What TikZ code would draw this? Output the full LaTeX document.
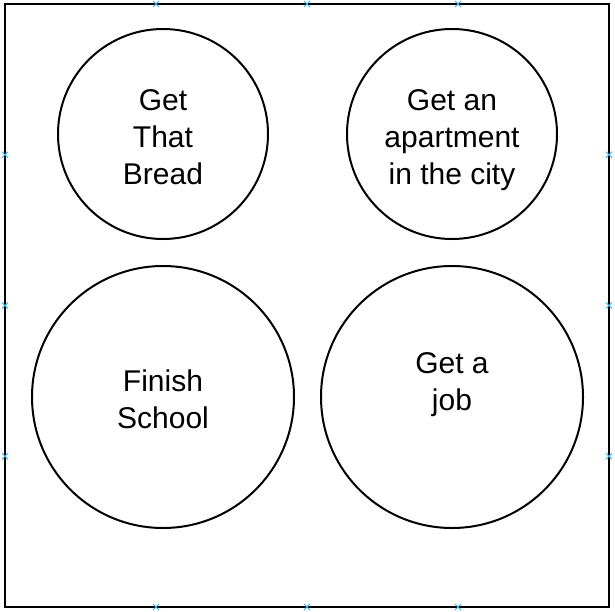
\documentclass[tikz,border=0pt]{standalone}
\usepackage{fontspec}
\setmainfont{Liberation Sans}
\usetikzlibrary{positioning}
\definecolor{markblue}{HTML}{29B6F2}
\tikzset{
	goal/.style={draw,line width=2pt,circle,inner sep=0pt,align=center,font=\fontsize{30}{37}\selectfont},
	pin/.style={markblue,line width=0.9pt}
}

\begin{document}
\begin{tikzpicture}[x=1pt,y=-1pt,line width=2pt]
		\useasboundingbox (0,0) rectangle (615,611);
		%\fill[white] (0,0) rectangle (615,611);
		\draw (5,4) rectangle (609,607);
		% connection marks on the frame
		\foreach \t in {0.25,0.5,0.75}{
			\pgfmathsetmacro{\mx}{2+604*\t}
			\pgfmathsetmacro{\my}{1+603*\t}
			\draw[pin] (\mx,1) -- ++(6,6) (\mx,7) -- ++(6,-6);
			\draw[pin] (\mx,604) -- ++(6,6) (\mx,610) -- ++(6,-6);
			\draw[pin] (2,\my) -- ++(6,6) (2,\my+6) -- ++(6,-6);
			\draw[pin] (606,\my) -- ++(6,6) (606,\my+6) -- ++(6,-6);
		}
		\node[goal,minimum size=210pt] (bread) at (163,134) {};
		\node[goal,minimum size=210pt] (apartment) at (452,134) {};
		\node[goal,minimum size=262pt] (school) at (163,397) {};
		\node[goal,minimum size=262pt] (job) at (452,397) {};
		\node[goal,draw=none] at ([yshift=-3pt]bread) {Get\\That\\Bread};
		\node[goal,draw=none] at ([yshift=-6pt]apartment) {Get an\\apartment\\in the city};
		\node[goal,draw=none] at ([yshift=-2pt]school) {Finish\\School};
		\node[goal,draw=none] at ([yshift=12pt]job) {Get a\\job};
	\end{tikzpicture}
\end{document}
